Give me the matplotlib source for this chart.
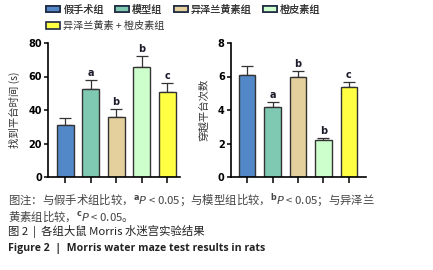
import numpy as np
import matplotlib
matplotlib.use("Agg")
import matplotlib.pyplot as plt

plt.rcParams["font.family"] = ["Noto Sans CJK SC", "DejaVu Sans"]
plt.rcParams["mathtext.fontset"] = "dejavusans"

# --- data ---
groups = ["假手术组", "模型组", "异泽兰黄素组", "橙皮素组", "异泽兰黄素 + 橙皮素组"]
colors = ["#5288C8", "#7FC8B2", "#E4D09C", "#CCFFCC", "#FFFF44"]

time_mean = [31, 52.5, 36, 65.5, 50.5]
time_err = [4, 5.5, 4.5, 6.5, 5.5]
time_marks = ["", "a", "b", "b", "c"]

cross_mean = [6.1, 4.15, 6.0, 2.22, 5.4]
cross_err = [0.5, 0.32, 0.35, 0.13, 0.26]
cross_marks = ["", "a", "b", "b", "c"]

W, H = 433, 270
fig = plt.figure(figsize=(W / 100, H / 100), dpi=100)


def draw_panel(ax, means, errs, marks, ylim, yticks, ylabel, pad):
    x = np.arange(len(means))
    bars = ax.bar(x, means, width=0.66, color=colors, edgecolor="#333333",
                  linewidth=1.0, zorder=2)
    ax.errorbar(x, means, yerr=[np.zeros(len(errs)), errs], fmt="none",
                ecolor="#333333", elinewidth=0.9, capsize=4, capthick=0.9,
                zorder=1)
    for xi, m, e, t in zip(x, means, errs, marks):
        if t:
            ax.text(xi, m + e + pad, t, ha="center", va="bottom",
                    fontsize=7, fontweight="bold", color="#1a1a2a",
                    family="DejaVu Sans")
    ax.set_ylim(*ylim)
    ax.set_yticks(yticks)
    ax.set_yticklabels([str(v) for v in yticks], fontsize=7,
                       fontweight="bold", family="DejaVu Sans")
    ax.set_xticks(x)
    ax.set_xticklabels([])
    ax.tick_params(axis="y", length=3, width=1.1, pad=1.5)
    ax.tick_params(axis="x", length=4, width=1.1)
    for s in ["top", "right"]:
        ax.spines[s].set_visible(False)
    for s in ["left", "bottom"]:
        ax.spines[s].set_linewidth(1.2)
    ax.set_ylabel(ylabel, fontsize=7.5, color="#333333", labelpad=4)
    return bars


ax1 = fig.add_axes([48 / W, 1 - 177 / H, 132 / W, 134 / H])
bars = draw_panel(ax1, time_mean, time_err, time_marks, (0, 80),
                  [0, 20, 40, 60, 80], "找到平台时间 (s)", 1.2)
ax1.set_xlim(-0.67, 4.5)
ax1.yaxis.set_label_coords(-0.215, 0.5)

ax2 = fig.add_axes([231 / W, 1 - 177 / H, 135 / W, 134 / H])
draw_panel(ax2, cross_mean, cross_err, cross_marks, (0, 8),
           [0, 2, 4, 6, 8], "穿越平台次数", 0.12)
ax2.set_xlim(-0.63, 4.67)
ax2.yaxis.set_label_coords(-0.163, 0.5)

# legend, two rows
leg_kw = dict(frameon=False, fontsize=7.3, handlelength=1.4, handleheight=0.6,
              handletextpad=0.3, columnspacing=1.1, borderaxespad=0,
              borderpad=0)
leg1 = fig.legend(bars[:4], groups[:4], ncol=4, loc="upper left",
                  bbox_to_anchor=(46 / W, 1 - 4.5 / H), **leg_kw)
fig.add_artist(leg1)
leg2 = fig.legend(bars[4:], groups[4:], ncol=1, loc="upper left",
                  bbox_to_anchor=(46 / W, 1 - 21 / H), **leg_kw)
for leg in (leg1, leg2):
    for t in leg.get_texts():
        t.set_color("#333333")
    for p in leg.get_patches():
        p.set_edgecolor("#1f2a40")
        p.set_linewidth(1.2)

# caption
cap_col = "#444444"
fig.text(8 / W, 1 - 200 / H,
         "图注：与假手术组比较，$^{\\mathbf{a}}\\mathit{P}$ < 0.05；与模型组比较，"
         "$^{\\mathbf{b}}\\mathit{P}$ < 0.05；与异泽兰",
         fontsize=8.2, color=cap_col, va="center", ha="left")
fig.text(8 / W, 1 - 216 / H, "黄素组比较，$^{\\mathbf{c}}\\mathit{P}$ < 0.05。",
         fontsize=8.2, color=cap_col, va="center", ha="left")
fig.text(8 / W, 1 - 232 / H, "图 2  |  各组大鼠 Morris 水迷宫实验结果",
         fontsize=8.2, color="#222222", va="center", ha="left")
fig.text(8 / W, 1 - 248 / H, "Figure 2  |  Morris water maze test results in rats",
         fontsize=7.6, color="#222222", va="center", ha="left",
         fontweight="bold", family=["Open Sans", "DejaVu Sans"])

fig.savefig("out.png", dpi=100)
